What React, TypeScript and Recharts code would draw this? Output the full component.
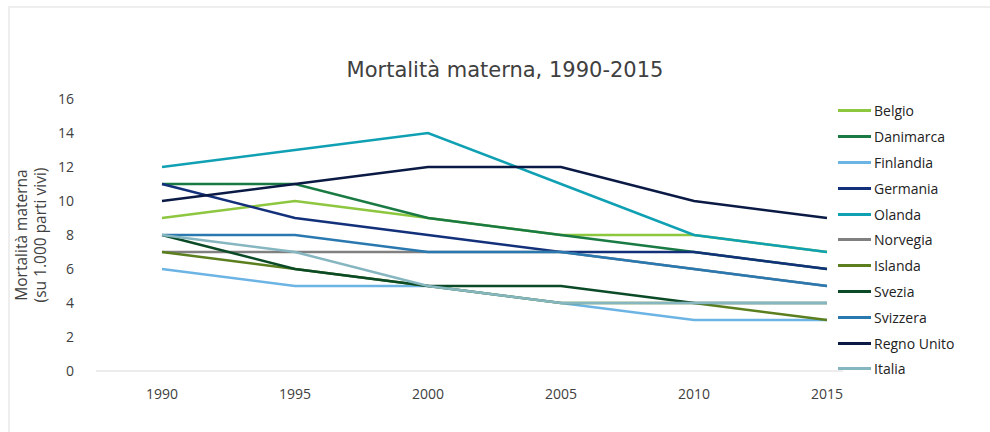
import { LineChart, Line, XAxis, YAxis, Label } from 'recharts'

const YEARS = ['1990', '1995', '2000', '2005', '2010', '2015']

const BELGIO = [9, 10, 9, 8, 8, 7]
const DANIMARCA = [11, 11, 9, 8, 7, 6]
const FINLANDIA = [6, 5, 5, 4, 3, 3]
const GERMANIA = [11, 9, 8, 7, 7, 6]
const OLANDA = [12, 13, 14, 11, 8, 7]
const NORVEGIA = [7, 7, 7, 7, 6, 5]
const ISLANDA = [7, 6, 5, 4, 4, 3]
const SVEZIA = [8, 6, 5, 5, 4, 4]
const SVIZZERA = [8, 8, 7, 7, 6, 5]
const REGNO_UNITO = [10, 11, 12, 12, 10, 9]
const ITALIA = [8, 7, 5, 4, 4, 4]

const Y_TICKS = [0, 2, 4, 6, 8, 10, 12, 14, 16]

const SERIES = [
  { name: 'Belgio', values: BELGIO, color: '#8DC63F' },
  { name: 'Danimarca', values: DANIMARCA, color: '#1A7A43' },
  { name: 'Finlandia', values: FINLANDIA, color: '#6CB4E4' },
  { name: 'Germania', values: GERMANIA, color: '#13307A' },
  { name: 'Olanda', values: OLANDA, color: '#0FA0B3' },
  { name: 'Norvegia', values: NORVEGIA, color: '#808080' },
  { name: 'Islanda', values: ISLANDA, color: '#5B7F1F' },
  { name: 'Svezia', values: SVEZIA, color: '#0B4A26' },
  { name: 'Svizzera', values: SVIZZERA, color: '#2A78B0' },
  { name: 'Regno Unito', values: REGNO_UNITO, color: '#0A1A45' },
  { name: 'Italia', values: ITALIA, color: '#86B6C0' },
]

const data = YEARS.map((year, i) => {
  const row: Record<string, string | number> = { year }
  SERIES.forEach((s) => {
    row[s.name] = s.values[i]
  })
  return row
})

const FONT = '"Open Sans", sans-serif'
const TEXT = '#404040'

function YLabel({ viewBox }: any) {
  const cy = viewBox.y + viewBox.height / 2
  return (
    <g>
      <text x={27} y={cy} transform={`rotate(-90, 27, ${cy})`} textAnchor="middle" fill={TEXT} fontSize={15.5} fontFamily={FONT}>
        Mortalità materna
      </text>
      <text x={46} y={cy} transform={`rotate(-90, 46, ${cy})`} textAnchor="middle" fill={TEXT} fontSize={15.5} fontFamily={FONT}>
        (su 1.000 parti vivi)
      </text>
    </g>
  )
}

function SideLegend() {
  return (
    <div style={{ position: 'absolute', left: 838, top: 98, fontFamily: FONT, fontSize: 14, color: '#222' }}>
      {SERIES.map((s) => (
        <div key={s.name} style={{ display: 'flex', alignItems: 'center', height: 25.8 }}>
          <span style={{ display: 'inline-block', width: 33, height: 3, background: s.color, marginRight: 3 }} />
          <span>{s.name}</span>
        </div>
      ))}
    </div>
  )
}

export default function App() {
  return (
    <div style={{ position: 'absolute', left: 0, top: 0, width: 990, height: 432, background: '#fff', overflow: 'hidden' }}>
      <div
        style={{
          position: 'absolute',
          left: 8,
          top: 6,
          width: 1000,
          height: 440,
          borderLeft: '2px solid #EEEEEE',
          borderTop: '2px solid #EEEEEE',
        }}
      />
      <div
        style={{
          position: 'absolute',
          top: 58,
          left: 0,
          width: 1010,
          textAlign: 'center',
          fontFamily: '"DejaVu Sans", sans-serif',
          fontSize: 21,
          color: TEXT,
        }}
      >
        Mortalità materna, 1990-2015
      </div>
      <LineChart
        width={990}
        height={432}
        data={data}
        margin={{ top: 99, right: 147, bottom: 31, left: 36 }}
        style={{ position: 'absolute', left: 0, top: 0 }}
      >
        <XAxis
          dataKey="year"
          padding={{ left: 66, right: 16 }}
          axisLine={{ stroke: '#D9D9D9' }}
          tickLine={false}
          tick={{ fill: TEXT, fontSize: 14, fontFamily: FONT }}
          tickMargin={12}
          height={30}
        />
        <YAxis
          domain={[0, 16]}
          ticks={Y_TICKS}
          axisLine={false}
          tickLine={false}
          tick={{ fill: TEXT, fontSize: 14, fontFamily: FONT }}
          tickMargin={16}
          width={60}
        >
          <Label content={<YLabel />} />
        </YAxis>
        {SERIES.map((s) => (
          <Line
            key={s.name}
            dataKey={s.name}
            stroke={s.color}
            strokeWidth={2.5}
            dot={false}
            isAnimationActive={false}
          />
        ))}
      </LineChart>
      <SideLegend />
    </div>
  )
}
